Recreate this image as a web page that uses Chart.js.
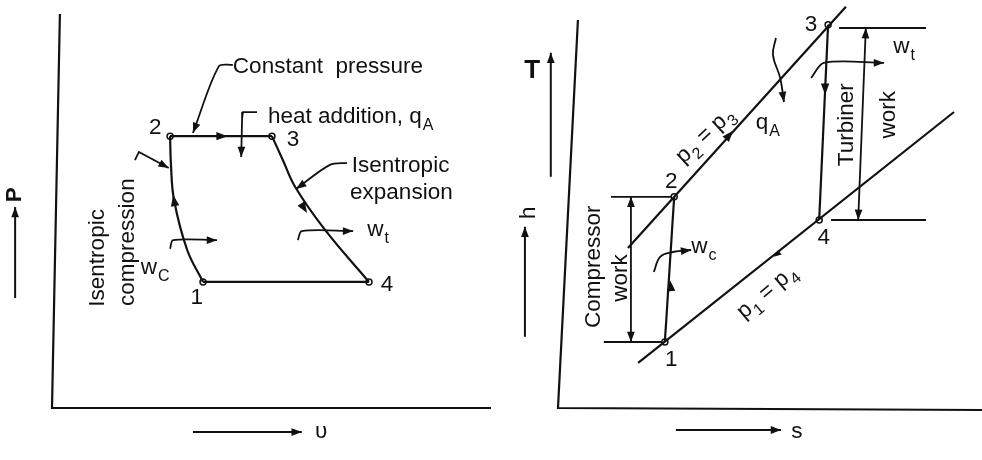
<!DOCTYPE html>
<html>
<head>
<meta charset="utf-8">
<script src="https://cdn.jsdelivr.net/npm/chart.js@4.4.1/dist/chart.umd.min.js"></script>
<style>
  html, body { margin: 0; padding: 0; background: #fff; }
  #wrap { position: relative; width: 982px; height: 460px; overflow: hidden; }
  canvas { position: absolute; top: 0; }
  #pv { left: 0; }
  #ts { left: 491px; }
</style>
</head>
<body>
<div id="wrap">
  <canvas id="pv" width="491" height="460"></canvas>
  <canvas id="ts" width="491" height="460"></canvas>
</div>
<script>
// P-v diagram, states 1..4 (arbitrary units)
const pvStateV = [3.44, 2.69, 5.01, 7.22];
const pvStateP = [3.2, 6.9, 6.9, 3.2];
const pvStateNames = ['1', '2', '3', '4'];
// isentropic compression 1 -> 2 and expansion 3 -> 4
const compV = [3.44, 3.08, 2.78, 2.71, 2.69];
const compP = [3.2, 4.01, 5.28, 6.17, 6.9];
const expV = [5.01, 5.26, 5.54, 6.22, 7.22];
const expP = [6.9, 6.29, 5.61, 4.52, 3.2];

// T-s diagram, states 1..4
const tsStateS = [2.52, 2.74, 6.37, 6.16];
const tsStateT = [1.70, 5.33, 9.63, 4.75];
// constant pressure lines p2 = p3 and p1 = p4
const highPS = [1.65, 6.79];
const highPT = [4.05, 10.08];
const lowPS = [1.89, 9.34];
const lowPT = [1.18, 7.45];

const ink = '#111';
const FONT = '"Liberation Sans", Arial, sans-serif';

const zip = (xs, ys) => xs.map((v, i) => ({x: v, y: ys[i]}));
const pt = i => ({x: pvStateV[i], y: pvStateP[i]});
const ts = i => ({x: tsStateS[i], y: tsStateT[i]});
const xy = a => a.map(p => ({x: p[0], y: p[1]}));

function line(data, extra) {
  return Object.assign({
    data: data, showLine: true, borderColor: ink, borderWidth: 2.2,
    pointRadius: 0, fill: false, clip: false, tension: 0
  }, extra || {});
}
function states(data) {
  return {
    data: data, showLine: false, clip: false, pointRadius: 3,
    pointBackgroundColor: '#fff', pointBorderColor: ink, pointBorderWidth: 1.5
  };
}

function head(ctx, x1, y1, x2, y2, len) {
  const a = Math.atan2(y2 - y1, x2 - x1);
  ctx.beginPath();
  ctx.moveTo(x2, y2);
  ctx.lineTo(x2 - len * Math.cos(a - 0.36), y2 - len * Math.sin(a - 0.36));
  ctx.lineTo(x2 - len * Math.cos(a + 0.36), y2 - len * Math.sin(a + 0.36));
  ctx.closePath();
  ctx.fill();
}

// arrowheads on datasets, mid-line arrows and text labels
const annotate = {
  id: 'annotate',
  afterDatasetsDraw(chart, args, opts) {
    const ctx = chart.ctx;
    const sx = chart.scales.x, sy = chart.scales.y;
    const at = p => [sx.getPixelForValue(p[0]), sy.getPixelForValue(p[1])];
    ctx.save();
    ctx.fillStyle = ink;
    chart.data.datasets.forEach((ds, i) => {
      const p = chart.getDatasetMeta(i).data;
      const n = p.length;
      if (ds.arrowEnd) head(ctx, p[n - 2].x, p[n - 2].y, p[n - 1].x, p[n - 1].y, 11);
      if (ds.arrowStart) head(ctx, p[1].x, p[1].y, p[0].x, p[0].y, 11);
    });
    (opts.marks || []).forEach(m => {
      const a = at(m[0]), b = at(m[1]);
      head(ctx, a[0], a[1], b[0], b[1], m[2] || 12);
    });
    (opts.labels || []).forEach(l => {
      const size = l.size || 22.5;
      const p = at(l.at);
      const parts = Array.isArray(l.t) ? l.t : [[l.t, 0]].concat(l.sub ? [[l.sub, 1]] : []);
      const fontFor = sub => sub ? Math.round(size * 0.72) + 'px ' + FONT
                                 : (l.bold ? 'bold ' : '') + size + 'px ' + FONT;
      ctx.save();
      ctx.translate(p[0], p[1]);
      if (l.rot) ctx.rotate(l.rot * Math.PI / 180);
      ctx.textBaseline = 'middle';
      ctx.textAlign = 'left';
      let w = 0;
      parts.forEach(q => { ctx.font = fontFor(q[1]); w += ctx.measureText(q[0]).width + (q[1] ? 1 : 0); });
      let x = l.align === 'left' ? 0 : -w / 2;
      parts.forEach(q => {
        ctx.font = fontFor(q[1]);
        if (q[1]) x += 1;
        ctx.fillText(q[0], x, q[1] ? size * 0.38 : 0);
        x += ctx.measureText(q[0]).width;
      });
      ctx.restore();
    });
    ctx.restore();
  }
};

function makeChart(id, datasets, padding, plugOpts) {
  return new Chart(document.getElementById(id), {
    type: 'scatter',
    data: { datasets: datasets },
    options: {
      responsive: false,
      animation: false,
      events: [],
      layout: { padding: padding, autoPadding: false },
      plugins: { legend: { display: false }, tooltip: { enabled: false }, annotate: plugOpts },
      scales: {
        x: { type: 'linear', min: 0, max: 10, display: false },
        y: { type: 'linear', min: 0, max: 10, display: false }
      }
    },
    plugins: [annotate]
  });
}

// ---------- P-v ----------
makeChart('pv', [
  line(xy([[0.18, 10], [0, 0], [10, 0]])),
  line(zip(compV, compP), { tension: 0.4 }),
  line([pt(1), pt(2)]),
  line(zip(expV, expP), { tension: 0.4 }),
  line([pt(3), pt(0)]),
  states(zip(pvStateV, pvStateP)),
  // leaders
  line(xy([[4.12, 8.71], [3.80, 8.67], [3.21, 6.98]]), { borderWidth: 1.8, tension: 0.3, arrowEnd: true }),
  line(xy([[4.67, 7.51], [4.35, 7.51], [4.33, 7.35], [4.31, 6.37]]), { borderWidth: 1.8, arrowEnd: true }),
  line(xy([[1.89, 6.29], [1.98, 6.50], [2.66, 6.09]]), { borderWidth: 1.8, arrowEnd: true }),
  line(xy([[6.72, 6.22], [6.33, 6.17], [5.56, 5.56]]), { borderWidth: 1.8, tension: 0.3, arrowEnd: true }),
  line(xy([[5.60, 4.26], [5.69, 4.49], [6.86, 4.49]]), { borderWidth: 1.8, tension: 0.3, arrowEnd: true }),
  line(xy([[2.69, 4.04], [2.76, 4.26], [3.76, 4.26]]), { borderWidth: 1.8, tension: 0.3, arrowEnd: true }),
  // axis direction arrows
  line(xy([[-0.84, 2.79], [-0.84, 5.10]]), { borderWidth: 2, arrowEnd: true }),
  line(xy([[3.21, -0.61], [5.69, -0.61]]), { borderWidth: 2, arrowEnd: true })
], { left: 52, top: 14, right: 0, bottom: 52 }, {
  marks: [
    [[3.70, 6.90], [4.00, 6.90]],
    [[2.80, 5.15], [2.76, 5.41]],
    [[5.67, 5.20], [5.81, 4.95]]
  ],
  labels: [
    { t: pvStateNames[1], at: [2.35, 7.11] },
    { t: pvStateNames[2], at: [5.49, 6.80] },
    { t: pvStateNames[3], at: [7.63, 3.12] },
    { t: pvStateNames[0], at: [3.30, 2.79] },
    { t: 'Constant  pressure', at: [4.12, 8.65], align: 'left' },
    { t: 'heat addition, q', sub: 'A', at: [4.92, 7.39], align: 'left' },
    { t: 'Isentropic', at: [6.83, 6.14], align: 'left' },
    { t: 'expansion', at: [6.79, 5.46], align: 'left' },
    { t: 'w', sub: 't', at: [7.43, 4.52] },
    { t: 'w', sub: 'C', at: [2.35, 3.55] },
    { t: 'Isentropic', at: [1.05, 3.81], rot: -90 },
    { t: 'compression', at: [1.73, 4.21], rot: -90 },
    { t: 'P', at: [-0.84, 5.41], rot: -90, bold: true },
    { t: 'υ', at: [5.99, -0.61], align: 'left' }
  ]
});

// ---------- T-s ----------
makeChart('ts', [
  line(xy([[0.47, 9.75], [0, 0.05], [10, 0]])),
  line(zip(highPS, highPT)),
  line(zip(lowPS, lowPT)),
  line([ts(0), ts(1)]),
  line([ts(2), ts(3)]),
  states(zip(tsStateS, tsStateT)),
  // extent lines
  line([{x: 1.25, y: tsStateT[1]}, ts(1)], { borderWidth: 1.8 }),
  line([{x: 1.08, y: tsStateT[0]}, ts(0)], { borderWidth: 1.8 }),
  line(xy([[6.63, 9.55], [8.68, 9.55]]), { borderWidth: 1.8 }),
  line([{x: 6.44, y: tsStateT[3]}, {x: 8.68, y: tsStateT[3]}], { borderWidth: 1.8 }),
  // work double arrows
  line([{x: 1.72, y: tsStateT[1]}, {x: 1.72, y: tsStateT[0]}], { borderWidth: 1.8, arrowStart: true, arrowEnd: true }),
  line([{x: 7.26, y: 9.55}, {x: 7.08, y: tsStateT[3]}], { borderWidth: 1.8, arrowStart: true, arrowEnd: true }),
  // leaders
  line(xy([[5.14, 9.30], [5.07, 8.88], [5.24, 8.30], [5.33, 7.70]]), { borderWidth: 1.8, tension: 0.4, arrowEnd: true }),
  line(xy([[5.97, 8.30], [6.27, 8.68], [7.69, 8.68]]), { borderWidth: 1.8, tension: 0.3, arrowEnd: true }),
  line(xy([[2.26, 3.45], [2.41, 3.83], [2.71, 3.95], [3.14, 4.00]]), { borderWidth: 1.8, tension: 0.4, arrowEnd: true }),
  // axis direction arrows
  line(xy([[-0.17, 5.83], [-0.17, 8.93]]), { borderWidth: 2, arrowEnd: true }),
  line(xy([[-0.78, 1.83], [-0.78, 4.58]]), { borderWidth: 2, arrowEnd: true }),
  line(xy([[2.78, -0.5], [5.26, -0.5]]), { borderWidth: 2, arrowEnd: true })
], { left: 67, top: 10, right: 0, bottom: 50 }, {
  marks: [
    [[2.67, 2.95], [2.64, 3.25]],
    [[3.94, 6.75], [4.13, 6.98]],
    [[6.30, 8.25], [6.30, 7.88]],
    [[5.28, 3.98], [5.09, 3.83], 8]
  ],
  labels: [
    { t: '3', at: [5.97, 9.63] },
    { t: '2', at: [2.67, 5.70] },
    { t: '4', at: [6.27, 4.30] },
    { t: '1', at: [2.67, 1.25] },
    { t: 'w', sub: 't', at: [8.16, 9.08] },
    { t: 'w', sub: 'c', at: [3.44, 4.08] },
    { t: 'q', sub: 'A', at: [4.95, 7.18] },
    { t: [['p', 0], ['2', 1], [' = p', 0], ['3', 1]], at: [3.47, 6.86], rot: -43 },
    { t: [['p', 0], ['1', 1], [' = p', 0], ['4', 1]], at: [4.93, 2.95], rot: -40 },
    { t: 'Compressor', at: [0.85, 3.58], rot: -90 },
    { t: 'work', at: [1.49, 3.30], rot: -90 },
    { t: 'Turbiner', at: [6.80, 7.13], rot: -90 },
    { t: 'work', at: [7.80, 7.38], rot: -90 },
    { t: 'T', at: [-0.61, 8.48], bold: true, size: 26 },
    { t: 'h', at: [-0.68, 4.93], rot: -90 },
    { t: 's', at: [5.50, -0.55], align: 'left' }
  ]
});
</script>
</body>
</html>
